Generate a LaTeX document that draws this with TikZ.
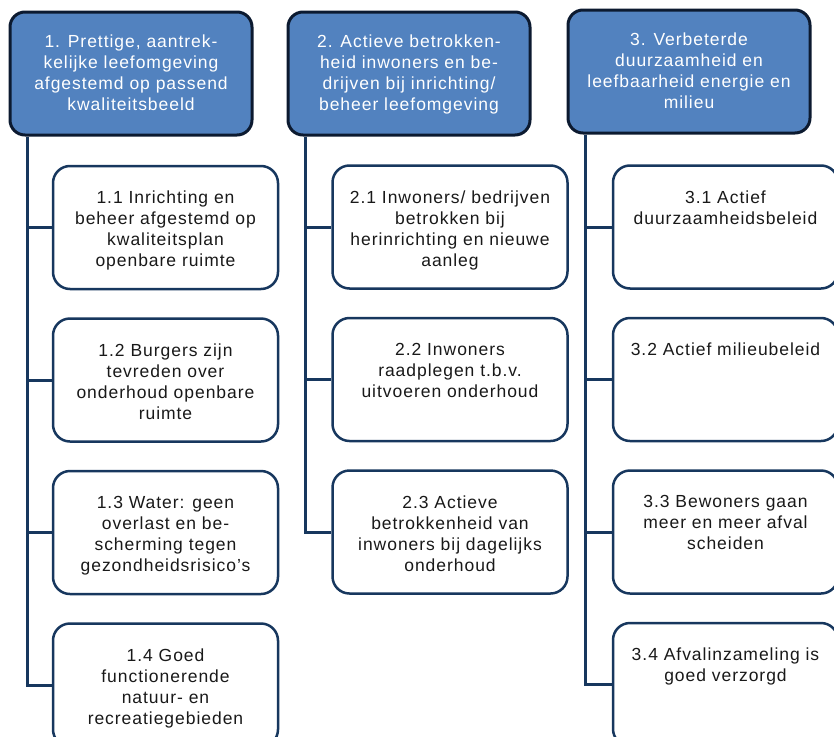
\documentclass[tikz,border=0pt]{standalone}
\usepackage{fontspec}
\setmainfont{Liberation Sans}[LetterSpace=5.5]
\usepackage{tikz}
\usetikzlibrary{positioning}

\definecolor{headfill}{HTML}{5282BF}
\definecolor{headline}{HTML}{0C1A30}
\definecolor{kidline}{HTML}{17375E}
\newcommand{\boxtxt}[3]{\parbox[c][123pt][t]{#1}{\centering\vspace*{#2}#3}}

\begin{document}
\begin{tikzpicture}[x=1pt,y=-1pt,font=\fontsize{17.5}{21}\selectfont,
  head/.style={draw=headline,line width=3pt,fill=headfill,rounded corners=15pt,inner sep=0pt,text=white,minimum width=242pt,minimum height=123pt},
  kid/.style={draw=kidline,line width=2.5pt,fill=white,rounded corners=17pt,inner sep=0pt,text=black!90,minimum height=123pt},
  link/.style={draw=kidline,line width=3pt}]
\useasboundingbox (0,0) rectangle (834,736);

% headers
\node[head] (h1) at (131,73.5) {\boxtxt{240pt}{23pt}{1. Prettige, aantrek-\\kelijke leefomgeving\\afgestemd op passend\\kwaliteitsbeeld}};
\node[head] (h2) at (409,73.5) {\boxtxt{240pt}{23pt}{2. Actieve betrokken-\\heid inwoners en be-\\drijven bij inrichting/\\beheer leefomgeving}};
\node[head] (h3) at (689,71.5) {\boxtxt{240pt}{23pt}{3. Verbeterde\\duurzaamheid en\\leefbaarheid energie en\\milieu}};

% column 1
\node[kid,minimum width=225pt] (k11) at (165.5,227.5) {\boxtxt{223pt}{25pt}{1.1 Inrichting en\\beheer afgestemd op\\kwaliteitsplan\\openbare ruimte}};
\node[kid,minimum width=225pt,below=27pt of k11] (k12) {\boxtxt{223pt}{25pt}{1.2 Burgers zijn\\tevreden over\\onderhoud openbare\\ruimte}};
\node[kid,minimum width=225pt,below=27pt of k12] (k13) {\boxtxt{223pt}{25pt}{1.3 Water: geen\\overlast en be-\\scherming tegen\\gezondheidsrisico's}};
\node[kid,minimum width=225pt,below=27pt of k13] (k14) {\boxtxt{223pt}{25pt}{1.4 Goed\\functionerende\\natuur- en\\recreatiegebieden}};

% column 2
\node[kid,minimum width=235pt] (k21) at (450,227) {\boxtxt{233pt}{25pt}{2.1 Inwoners/ bedrijven\\betrokken bij\\herinrichting en nieuwe\\aanleg}};
\node[kid,minimum width=235pt,below=27pt of k21] (k22) {\boxtxt{233pt}{25pt}{2.2 Inwoners\\raadplegen t.b.v.\\uitvoeren onderhoud}};
\node[kid,minimum width=235pt,below=27pt of k22] (k23) {\boxtxt{233pt}{25pt}{2.3 Actieve\\betrokkenheid van\\inwoners bij dagelijks\\onderhoud}};

% column 3
\node[kid,minimum width=225pt] (k31) at (725.5,227) {\boxtxt{223pt}{25pt}{3.1 Actief\\duurzaamheidsbeleid}};
\node[kid,minimum width=225pt,below=27pt of k31] (k32) {\boxtxt{223pt}{25pt}{3.2 Actief milieubeleid}};
\node[kid,minimum width=225pt,below=27pt of k32] (k33) {\boxtxt{223pt}{25pt}{3.3 Bewoners gaan\\meer en meer afval\\scheiden}};
\node[kid,minimum width=225pt,below=27pt of k33] (k34) {\boxtxt{223pt}{25pt}{3.4 Afvalinzameling is\\goed verzorgd}};

% connectors
\foreach \c/\n in {1/4,2/3,3/4} {
  \coordinate (s\c) at ([xshift=19pt]h\c.south west);
  \draw[link] (s\c) |- (k\c\n.west);
  \foreach \r in {1,...,\n}
    \draw[link] (s\c |- k\c\r.west) -- (k\c\r.west);
}
\end{tikzpicture}
\end{document}
